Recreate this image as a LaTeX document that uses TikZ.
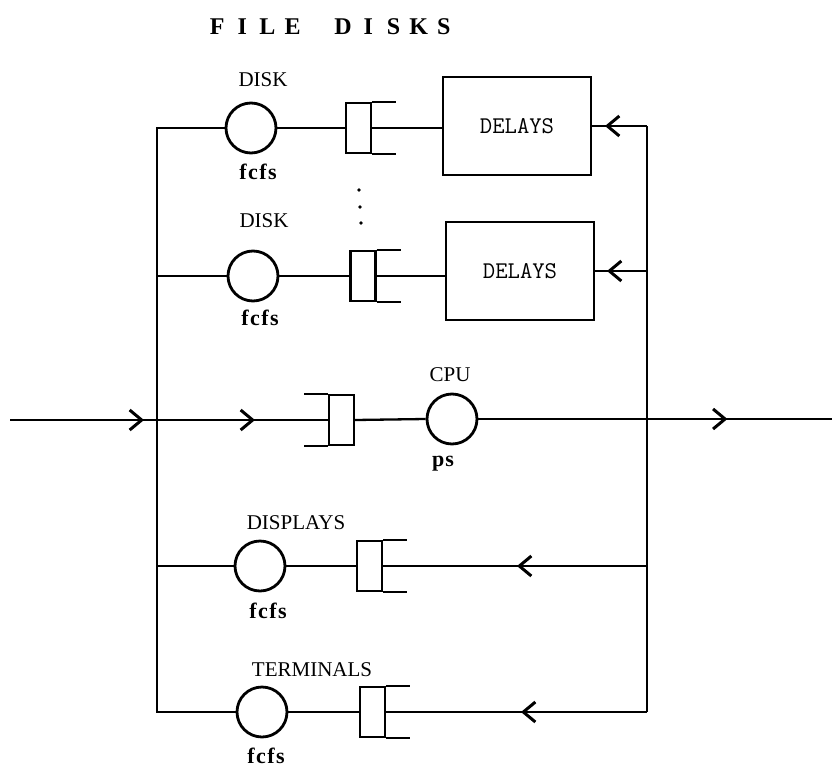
\documentclass[tikz,border=0pt]{standalone}
\usepackage{fontspec}
\setmainfont{Liberation Serif}
\usetikzlibrary{arrows.meta,decorations.markings}
\newcommand\tlet[1]{\makebox[25.2pt]{#1}}
\tikzset{
  ln/.style={line width=2.3pt},
  srv/.style={circle, draw, line width=2.8pt, minimum size=50pt, inner sep=0pt},
  qbox/.style={rectangle, draw, line width=2.2pt, minimum width=25pt, minimum height=50pt, inner sep=0pt},
  dbox/.style={rectangle, draw, line width=2.2pt, minimum width=148pt, minimum height=98pt, inner sep=0pt,
    font=\ttfamily\fontsize{24}{26}\selectfont},
  lab/.style={font=\fontsize{21}{23}\selectfont, inner sep=0pt},
  pol/.style={font=\bfseries\fontsize{22}{24}\selectfont, inner sep=0pt},
  ttl/.style={font=\bfseries\fontsize{24}{26}\selectfont, inner sep=0pt},
  chev/.style={decoration={markings, mark=at position #1 with {\arrow{Straight Barb[length=12pt,width=20pt,line width=3pt]}}}, postaction=decorate},
}
\begin{document}
\begin{tikzpicture}[x=1pt,y=-1pt]
\useasboundingbox (0,0) rectangle (832,768);

% title
\node[ttl] (title) at (330.5,27) {\tlet{F}\tlet{I}\tlet{L}\tlet{E}\tlet{}\tlet{D}\tlet{I}\tlet{S}\tlet{K}\tlet{S}};

% servers
\node[srv] (d1) at (251,128) {};
\node[srv] (d2) at (253,276) {};
\node[srv] (cpu) at (452,419) {};
\node[srv] (dsp) at (260,566) {};
\node[srv] (trm) at (262,712) {};

% queues
\node[qbox] (q1) at (358.5,128) {};
\node[qbox] (q2) at (363,276) {};
\node[qbox] (qc) at (341.5,420) {};
\node[qbox] (qd) at (369.5,566) {};
\node[qbox] (qt) at (372.5,712) {};

% delays
\node[dbox] (dl1) at (517,126) {DELAYS};
\node[dbox] (dl2) at (520,271) {DELAYS};

% labels
\node[lab] (ldisk1) at (263,80) {DISK};
\node[pol] (lf1) at (258,172) {f\kern1.5pt c\kern1.5pt f\kern1.5pt s};
\node[lab] (ldisk2) at (264,221) {DISK};
\node[pol] (lf2) at (260,318) {f\kern1.5pt c\kern1.5pt f\kern1.5pt s};
\node[lab] (lcpu) at (450,375) {CPU};
\node[pol] (lps) at (443,464) {p\kern1pt s};
\node[lab] (ldsp) at (296,523) {DISPLAYS};
\node[pol] (lf3) at (268,611) {f\kern1.5pt c\kern1.5pt f\kern1.5pt s};
\node[lab] (ltrm) at (312,670) {TERMINALS};
\node[pol] (lf4) at (266,756) {f\kern1.5pt c\kern1.5pt f\kern1.5pt s};

% dots
\fill (359,190) circle (1.8pt);
\fill (360,207) circle (1.8pt);
\fill (361,223) circle (1.8pt);

% bus coordinates
\coordinate (lb1) at (157,128);
\coordinate (lb2) at (157,276);
\coordinate (jc) at (157,420);
\coordinate (lb4) at (157,566);
\coordinate (lb5) at (157,712);
\coordinate (rb1) at (647,126);
\coordinate (rb2) at (647,271);
\coordinate (rb4) at (647,566);
\coordinate (rb5) at (647,712);
\coordinate (in) at (10,420);
\coordinate (out) at (832,419);

% queue arms
\draw[ln] (q1.north east) -- ++(24,0) (q1.south east) -- ++(24,0);
\draw[ln] (q2.north east) -- ++(24,0) (q2.south east) -- ++(24,0);
\draw[ln] (qd.north east) -- ++(24,0) (qd.south east) -- ++(24,0);
\draw[ln] (qt.north east) -- ++(24,0) (qt.south east) -- ++(24,0);
\draw[ln] (qc.north west) -- ++(-24,0) (qc.south west) -- ++(-24,0);

% left bus
\draw[ln] (d1.west) -- (lb1) -- (lb5) -- (trm.west);
\draw[ln] (d2.west) -- (lb2);
\draw[ln] (dsp.west) -- (lb4);

% right bus
\draw[ln] (rb1) -- (rb5);

% disk rows
\draw[ln] (d1.east) -- (q1.west);
\draw[ln] (q1.east) -- (q1.east -| dl1.west);
\draw[ln, chev=42pt] (rb1) -- (dl1.east);
\draw[ln] (d2.east) -- (q2.west);
\draw[ln] (q2.east) -- (q2.east -| dl2.west);
\draw[ln, chev=40pt] (rb2) -- (dl2.east);

% cpu row
\draw[ln, chev=134pt] (in) -- (jc);
\draw[ln, chev=98pt] (jc) -- (qc.west);
\draw[ln] (qc.east) -- (cpu.west);
\draw[ln, chev=249pt] (cpu.east) -- (out);

% displays and terminals
\draw[ln, chev=130pt] (rb4) -- (qd.east);
\draw[ln] (qd.west) -- (dsp.east);
\draw[ln, chev=126pt] (rb5) -- (qt.east);
\draw[ln] (qt.west) -- (trm.east);
\end{tikzpicture}
\end{document}
